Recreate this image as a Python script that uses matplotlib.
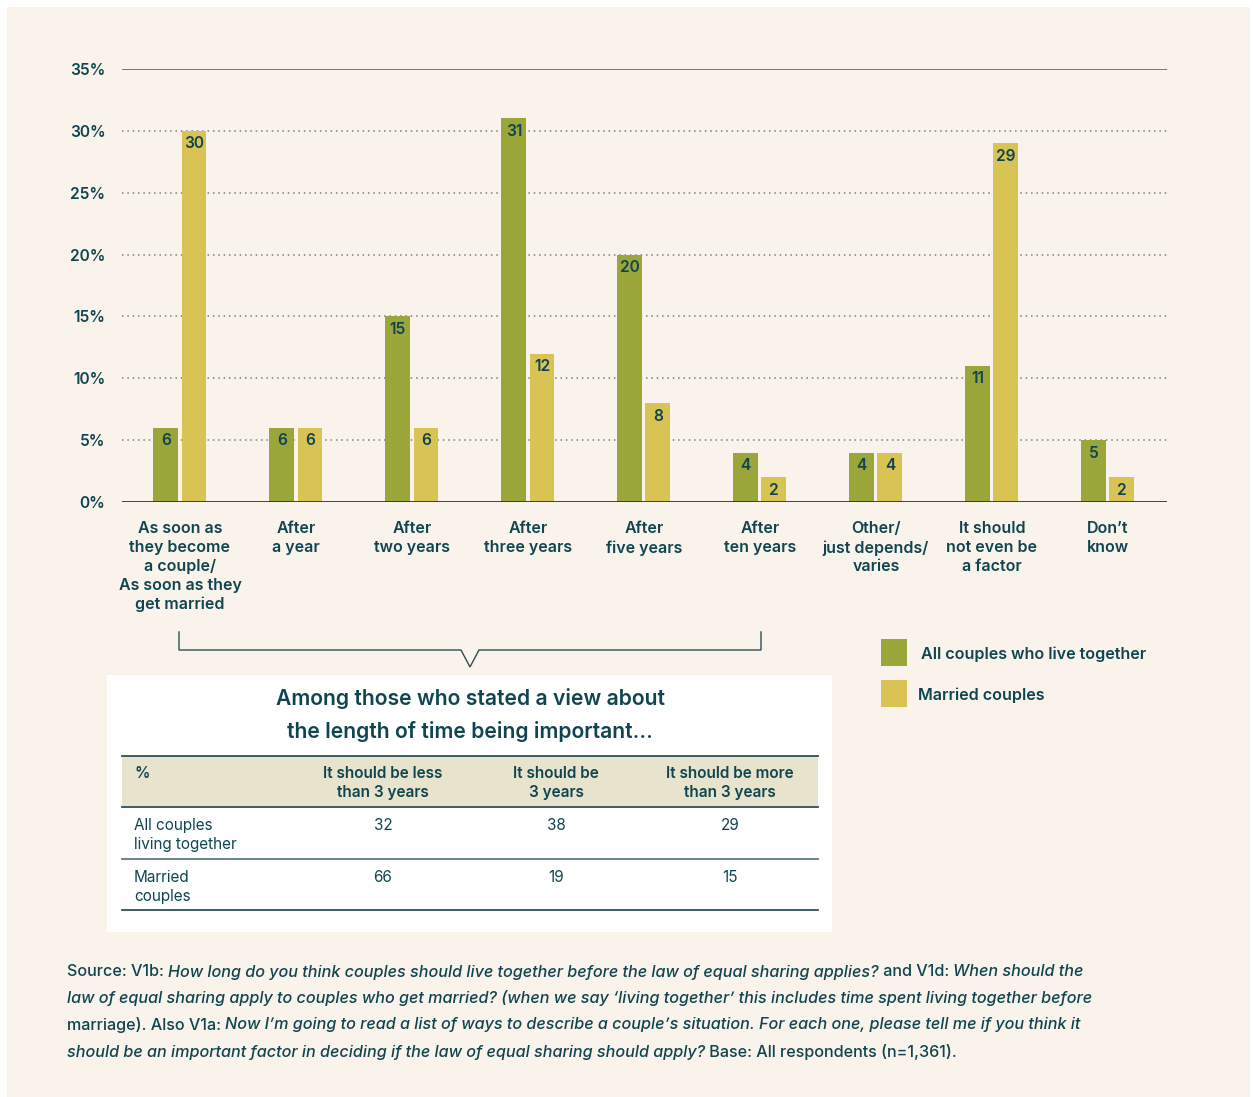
import matplotlib
matplotlib.use("Agg")
import matplotlib.pyplot as plt
from matplotlib.patches import Rectangle
import matplotlib.transforms as mtransforms
import numpy as np

# ---------------- data ----------------
categories = [
    "As soon as\nthey become\na couple/\nAs soon as they\nget married",
    "After\na year",
    "After\ntwo years",
    "After\nthree years",
    "After\nfive years",
    "After\nten years",
    "Other/\njust depends/\nvaries",
    "It should\nnot even be\na factor",
    "Don\u2019t\nknow",
]
all_couples = [6, 6, 15, 31, 20, 4, 4, 11, 5]
married = [30, 6, 6, 12, 8, 2, 4, 29, 2]
series_names = ["All couples who live together", "Married couples"]
yticks = [0, 5, 10, 15, 20, 25, 30, 35]

table_title = "Among those who stated a view about\nthe length of time being important..."
table_cols = ["It should be less\nthan 3 years", "It should be\n3 years", "It should be more\nthan 3 years"]
table_rows = ["All couples\nliving together", "Married\ncouples"]
table_vals = [[32, 38, 29], [66, 19, 15]]

# ---------------- style ----------------
BG = "#FAF3EC"
GREEN = "#9BA63A"
YELLOW = "#D9C354"
TEXT = "#0F4550"
FONT = "Inter"
plt.rcParams["font.family"] = [FONT, "DejaVu Sans"]

W, H = 1253, 1097
fig = plt.figure(figsize=(W / 100, H / 100), dpi=100, facecolor="white")

# overlay axes in pixel coordinates for decorations
ov = fig.add_axes([0, 0, 1, 1], zorder=0)
ov.set_xlim(0, W)
ov.set_ylim(H, 0)
ov.axis("off")
ov.add_patch(Rectangle((7, 7), W - 10, H - 7, facecolor=BG, edgecolor="none"))

# ---------------- bar chart ----------------
ax_l, ax_r, ax_t, ax_b = 122, 1167, 69, 502
ax = fig.add_axes([ax_l / W, 1 - ax_b / H, (ax_r - ax_l) / W, (ax_b - ax_t) / H], zorder=2)
ax.set_facecolor("none")
x = np.arange(len(categories))
bw = 0.215
off = 0.121
ax.bar(x - off, all_couples, bw, color=GREEN, zorder=3)
ax.bar(x + off, married, bw, color=YELLOW, zorder=3)
ax.set_xlim(-0.5, 8.51)
ax.set_ylim(0, 35)
for s in ax.spines.values():
    s.set_visible(False)
ax.set_yticks(yticks)
ax.set_yticklabels([f"{v}%" for v in yticks])
ax.tick_params(axis="y", length=0, pad=12, labelsize=11.2, labelcolor=TEXT)
for lab in ax.get_yticklabels():
    lab.set_fontweight("semibold")
ax.set_xticks([])
for v in yticks[1:-1]:
    ax.axhline(v, color="#6F8286", lw=1.1, ls=(0, (1, 2.5)), zorder=1)
ax.axhline(35, color="#4E6A70", lw=1.2, zorder=1)
ax.axhline(0, color="#1E3E44", lw=1.3, zorder=4)

for xi, v in zip(x, all_couples):
    ax.annotate(str(v), (xi - off, v), xytext=(0, -13), textcoords="offset pixels",
                ha="center", va="center", fontsize=11.2, fontweight="semibold", color=TEXT, zorder=5)
for xi, v in zip(x, married):
    ax.annotate(str(v), (xi + off, v), xytext=(0, -13), textcoords="offset pixels",
                ha="center", va="center", fontsize=11.2, fontweight="semibold", color=TEXT, zorder=5)

trans = mtransforms.blended_transform_factory(ax.transData, ax.transAxes)
for xi, c in zip(x, categories):
    ax.text(xi, -(521 - ax_b) / (ax_b - ax_t), c, transform=trans, ha="center", va="top",
            fontsize=11.5, fontweight="semibold", color=TEXT, linespacing=1.32)

# ---------------- bracket ----------------
ov.plot([179, 179, 461, 470, 479, 761, 761], [632, 650, 650, 667, 650, 650, 632],
        color="#2E4E55", lw=1.0, solid_joinstyle="miter")

# ---------------- legend ----------------
ov.add_patch(Rectangle((881, 639), 26, 27, facecolor=GREEN, edgecolor="none"))
ov.add_patch(Rectangle((881, 680), 26, 27, facecolor=YELLOW, edgecolor="none"))
ov.text(921, 654, series_names[0], ha="left", va="center", fontsize=11.6,
        fontweight="semibold", color=TEXT)
ov.text(918, 695, series_names[1], ha="left", va="center", fontsize=11.6,
        fontweight="semibold", color=TEXT)

# ---------------- table box ----------------
ov.add_patch(Rectangle((107, 675), 725, 257, facecolor="white", edgecolor="none"))
ov.text(470, 715, table_title, ha="center", va="center", fontsize=15.2,
        fontweight="semibold", color=TEXT, linespacing=1.66)
ov.add_patch(Rectangle((122, 756), 696, 51, facecolor="#E8E3CC", edgecolor="none"))
ov.plot([122, 818], [756, 756], color="#2F5057", lw=1.3)
ov.plot([122, 818], [807, 807], color="#2F5057", lw=1.3)
ov.plot([122, 818], [859, 859], color="#5F7A80", lw=1.3)
ov.plot([122, 818], [910, 910], color="#2F5057", lw=1.3)
col_x = [383, 556, 730]
ov.text(134, 773, "%", ha="left", va="center", fontsize=11, fontweight="semibold", color=TEXT)
for cx, c in zip(col_x, table_cols):
    ov.text(cx, 783, c, ha="center", va="center", fontsize=11, fontweight="semibold",
            color=TEXT, linespacing=1.36)
row_y = [824, 876]
for ry, rname, vals in zip(row_y, table_rows, table_vals):
    ov.text(134, ry - 6, rname, ha="left", va="top", fontsize=11, color=TEXT, linespacing=1.36)
    for cx, v in zip(col_x, vals):
        ov.text(cx, ry + 1.5, str(v), ha="center", va="center", fontsize=11, color=TEXT)

# ---------------- footnote ----------------
foot_lines = [
    [("Source: V1b: ", "normal"),
     ("How long do you think couples should live together before the law of equal sharing applies?", "italic"),
     (" and V1d: ", "normal"), ("When should the", "italic")],
    [("law of equal sharing apply to couples who get married? (when we say \u2018living together\u2019 this includes time spent living together before", "italic")],
    [("marriage). Also V1a: ", "normal"),
     ("Now I\u2019m going to read a list of ways to describe a couple\u2019s situation. For each one, please tell me if you think it", "italic")],
    [("should be an important factor in deciding if the law of equal sharing should apply?", "italic"),
     (" Base: All respondents (n=1,361).", "normal")],
]
fig.canvas.draw()
renderer = fig.canvas.get_renderer()
foot_y = [972, 998, 1025, 1052]
for fy, parts in zip(foot_y, foot_lines):
    cur = 67
    for txt, style in parts:
        t = ov.text(cur, fy, txt, ha="left", va="center", fontsize=11.65, fontstyle=style,
                    fontweight="medium", color=TEXT)
        bb = t.get_window_extent(renderer=renderer)
        cur += bb.width

fig.savefig("out.png", dpi=100, facecolor="white")
